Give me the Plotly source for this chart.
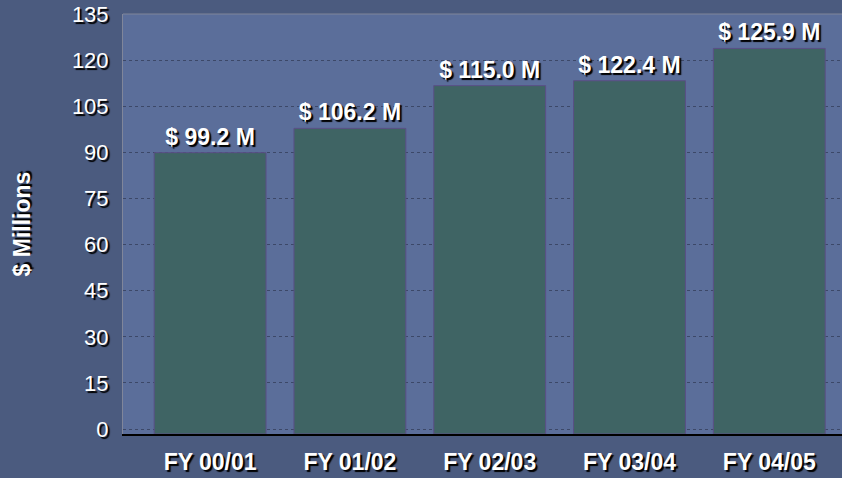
import plotly.graph_objects as go

categories = ["FY 00/01", "FY 01/02", "FY 02/03", "FY 03/04", "FY 04/05"]
bar_values = [89.9, 97.8, 111.7, 113.3, 123.8]
labels = ["$ 99.2 M", "$ 106.2 M", "$ 115.0 M", "$ 122.4 M", "$ 125.9 M"]
y_ticks = [0, 15, 30, 45, 60, 75, 90, 105, 120, 135]

Y_MIN = -1.6
SHADOW = "2px 2px 1px #000000"

fig = go.Figure()
fig.add_trace(go.Bar(
    x=categories, y=[v - Y_MIN for v in bar_values], base=Y_MIN,
    text=labels, textposition="outside", cliponaxis=False,
    textfont=dict(family="Liberation Sans", size=23, color="white", weight="bold", shadow=SHADOW),
    marker=dict(color="#3f6464", line=dict(color="#5a4f86", width=1)),
    width=0.8,
))

fig.update_layout(
    width=842, height=478,
    margin=dict(l=123, r=0, t=14, b=44, autoexpand=False),
    paper_bgcolor="#4b5b7f", plot_bgcolor="#5b6e9a",
    showlegend=False,
    xaxis=dict(
        range=[-0.623, 4.52], showgrid=False, automargin=False,
        showline=True, linecolor="#000000", linewidth=2,
        tickfont=dict(family="Liberation Sans", size=23,
                      color="white", weight="bold", shadow=SHADOW),
        ticklabelstandoff=6, ticks="",
    ),
    yaxis=dict(
        range=[Y_MIN, 135], tickvals=y_ticks, automargin=False,
        showgrid=True, gridcolor="#3c4868", griddash="dot", gridwidth=1,
        zeroline=False,
        showline=True, linecolor="#80869a", linewidth=1,
        tickfont=dict(family="Liberation Sans", size=22, color="white", shadow=SHADOW),
        ticklabelstandoff=9, ticks="",
        title=dict(text="$ Millions", standoff=34,
                   font=dict(family="Liberation Sans", size=23, color="white", weight="bold", shadow=SHADOW)),
    ),
    shapes=[dict(type="line", xref="paper", yref="paper", x0=0, x1=1, y0=1, y1=1,
                 line=dict(color="#80869a", width=1))],
)

fig.write_html("out.html")
